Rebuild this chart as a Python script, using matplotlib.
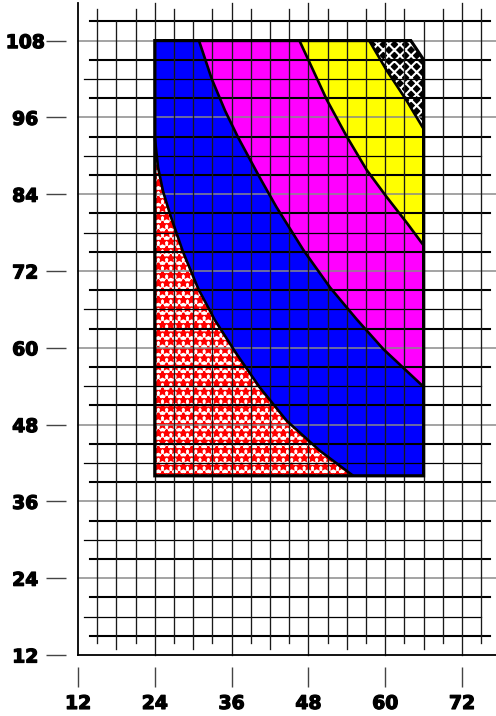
import matplotlib.pyplot as plt
import matplotlib.patheffects as pe

# -------------------------
# DATA
# -------------------------

# outer box of the coloured zone
box_x = [24, 66, 66, 64, 24]
box_y = [40, 40, 105, 108, 108]

# boundary curves, top/left end first
curve_a_x = [24.0, 24.5, 25.3, 26.4, 28.4, 30.8, 33.4, 36.8, 40.4, 44.6, 49.8, 55.0]
curve_a_y = [92.9, 88.2, 84.4, 80.8, 75.0, 69.2, 64.3, 59.0, 53.8, 48.6, 43.9, 40.0]

curve_b_x = [30.9, 32.9, 35.0, 37.0, 40.4, 43.0, 47.2, 51.4, 55.5, 59.7, 66.0]
curve_b_y = [108.0, 102.0, 97.0, 92.9, 86.6, 82.0, 75.3, 69.4, 64.5, 59.8, 53.9]

curve_c_x = [46.6, 50.9, 54.0, 57.1, 60.2, 63.4, 66.0]
curve_c_y = [108.0, 98.7, 93.0, 87.8, 83.6, 79.5, 76.0]

curve_d_x = [57.5, 60.2, 63.3, 66.0]
curve_d_y = [108.0, 103.4, 98.7, 94.2]

x_ticks = [12, 24, 36, 48, 60, 72]
y_ticks = [12, 24, 36, 48, 60, 72, 84, 96, 108]

# -------------------------
# FIGURE
# -------------------------

plt.rcParams['font.family'] = 'DejaVu Sans'
plt.rcParams['hatch.linewidth'] = 1.5

W, H = 496, 716
fig = plt.figure(figsize=(W / 100, H / 100), dpi=100)
ax = fig.add_axes([78 / W, 61 / H, (W - 78) / W, (655 - 3) / H])
XMAX = 12 + (W - 78) / 6.4
YMAX = 12 + (655 - 3) / 6.4
ax.set_xlim(12, XMAX)
ax.set_ylim(12, YMAX)

# filled zones
red_x = [24] + curve_a_x[::-1]
red_y = [40] + curve_a_y[::-1]
ax.fill(red_x, red_y, facecolor='white', edgecolor='red', hatch='**', lw=0, zorder=1)

blue_x = [24] + curve_b_x + [66] + curve_a_x[::-1]
blue_y = [108] + curve_b_y + [40] + curve_a_y[::-1]
ax.fill(blue_x, blue_y, color='#0000ff', lw=0, zorder=1)

mag_x = curve_c_x + curve_b_x[::-1]
mag_y = curve_c_y + curve_b_y[::-1]
ax.fill(mag_x, mag_y, color='#ff00ff', lw=0, zorder=1)

yel_x = curve_d_x + curve_c_x[::-1]
yel_y = curve_d_y + curve_c_y[::-1]
ax.fill(yel_x, yel_y, color='#ffff00', lw=0, zorder=1)

pat_x = [64, 66] + curve_d_x[::-1]
pat_y = [108, 105] + curve_d_y[::-1]
ax.fill(pat_x, pat_y, facecolor='black', edgecolor='white', hatch='xxx', lw=0, zorder=1)

# grid: every 3 units, ends staggered by step
for v in range(15, 112, 3):
    m = v % 12
    if m == 0:
        x0, x1, c, w = 12, XMAX, '#8a8a8a', 1.1
    elif m == 6:
        x0, x1, c, w = 12.94, 75, 'black', 0.9
    else:
        x0, x1, c, w = 13.88, 76.4, 'black', 1.5
    ax.plot([x0, x1], [v, v], color=c, lw=w, zorder=2, clip_on=False)

for v in range(15, 76, 3):
    m = v % 12
    if m == 0:
        y0, y1 = 12, YMAX
    elif m == 6:
        y0, y1 = 12.94, 111
    else:
        y0, y1 = 13.88, 112.9
    ax.plot([v, v], [y0, y1], color='#1a1a1a', lw=0.95, zorder=2, clip_on=False)

# boundaries
for cx, cy in [(curve_a_x, curve_a_y), (curve_b_x, curve_b_y),
               (curve_c_x, curve_c_y), (curve_d_x, curve_d_y)]:
    ax.plot(cx, cy, color='black', lw=1.9, zorder=3, solid_capstyle='butt',
            solid_joinstyle='round')
ax.fill(box_x, box_y, facecolor='none', edgecolor='black', lw=2.3, zorder=4,
        joinstyle='miter')

# axis lines
ax.plot([12, 12], [12, YMAX], color='black', lw=1.3, clip_on=False, zorder=4)
ax.plot([12, XMAX], [12, 12], color='black', lw=1.3, clip_on=False, zorder=4)

for side in ['top', 'right']:
    ax.spines[side].set_visible(False)
for side in ['left', 'bottom']:
    ax.spines[side].set_position(('outward', 8.64))
    ax.spines[side].set_visible(False)

ax.set_xticks(x_ticks, labels=[str(t) for t in x_ticks])
ax.set_yticks(y_ticks, labels=[str(t) for t in y_ticks], ha='center')
ax.tick_params(axis='x', length=14.4, width=1, color='#444444', pad=5)
ax.tick_params(axis='y', length=14.4, width=1, color='#444444', pad=15)
for lbl in ax.get_xticklabels() + ax.get_yticklabels():
    lbl.set_fontsize(13.5)
    lbl.set_fontweight('bold')
    lbl.set_path_effects([pe.withStroke(linewidth=0.9, foreground='black')])

fig.savefig('out.png', dpi=100)
